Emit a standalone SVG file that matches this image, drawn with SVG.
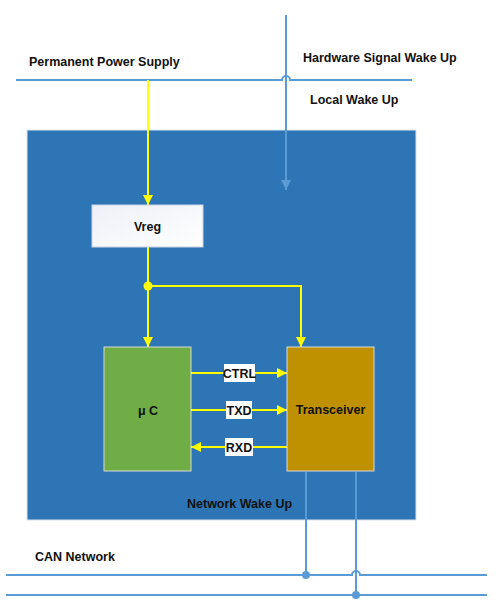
<svg xmlns="http://www.w3.org/2000/svg" width="503" height="610" viewBox="0 0 503 610">
<defs>
<marker id="ay" viewBox="0 0 10 10" refX="10" refY="5" markerWidth="10" markerHeight="10" markerUnits="userSpaceOnUse" orient="auto"><path d="M0,0 L10,5 L0,10 z" fill="#FFFF00"/></marker>
<marker id="ab" viewBox="0 0 10 10" refX="10" refY="5" markerWidth="10" markerHeight="10" markerUnits="userSpaceOnUse" orient="auto"><path d="M0,0 L10,5 L0,10 z" fill="#5B9BD5"/></marker>
<linearGradient id="gw" x1="0" y1="0" x2="1" y2="1"><stop offset="0" stop-color="#EEF0F7"/><stop offset="1" stop-color="#FFFFFF"/></linearGradient>
</defs>
<style>
text{font-family:"Liberation Sans",Arial,sans-serif;font-weight:bold;font-size:12.5px;fill:#111}
.bl{stroke:#5B9BD5;stroke-width:2;fill:none}
.yl{stroke:#FFFF00;stroke-width:2;fill:none}
.lab{fill:#FFFFFF;stroke:none}
</style>
<rect id="frame" x="27" y="130" width="389" height="390" fill="#2E75B6" stroke="#DDE6F0" stroke-width="1"/>
<g id="labels">
<text x="29" y="66">Permanent Power Supply</text>
<text x="303" y="62">Hardware Signal Wake Up</text>
<text x="310" y="104">Local Wake Up</text>
<text x="187" y="508">Network Wake Up</text>
<text x="35" y="561">CAN Network</text>
</g>
<g id="connectors">
<path class="bl" d="M16,80 H282 A4,4 0 0 1 290,80 H412"/>
<path class="bl" d="M286,15 V190" marker-end="url(#ab)"/>
<path class="yl" d="M148,80 V205" marker-end="url(#ay)"/>
<path class="yl" d="M148,247 V347" marker-end="url(#ay)"/>
<path class="yl" d="M148,286 H301 V347" marker-end="url(#ay)"/>
<circle cx="148" cy="286" r="4.5" fill="#FFFF00"/>
<path class="yl" d="M191,373 H287" marker-end="url(#ay)"/>
<path class="yl" d="M191,410 H287" marker-end="url(#ay)"/>
<path class="yl" d="M287,447 H191" marker-end="url(#ay)"/>
<path class="bl" d="M6,575 H352 A4,4 0 0 1 360,575 H487"/>
<path class="bl" d="M6,595 H487"/>
<path class="bl" d="M306,472 V575"/>
<path class="bl" d="M356,472 V595"/>
<circle cx="306" cy="575" r="4" fill="#5B9BD5"/>
<circle cx="356" cy="595" r="4" fill="#5B9BD5"/>
<rect class="lab" x="224" y="364" width="31" height="18"/>
<text x="239.5" y="378" text-anchor="middle">CTRL</text>
<rect class="lab" x="226" y="401" width="26" height="18"/>
<text x="239" y="415" text-anchor="middle">TXD</text>
<rect class="lab" x="225" y="438" width="28" height="18"/>
<text x="239" y="452" text-anchor="middle">RXD</text>
</g>
<g id="vreg">
<rect x="92" y="205" width="111" height="42" fill="url(#gw)" stroke="#C9D3E3" stroke-width="1"/>
<text x="147.5" y="231" text-anchor="middle">Vreg</text>
</g>
<g id="uc">
<rect x="104" y="347" width="87" height="124" fill="#70AD47" stroke="#D9D9D9" stroke-width="1"/>
<text x="148" y="415" text-anchor="middle">μ C</text>
</g>
<g id="transceiver">
<rect x="287" y="347" width="87" height="124" fill="#BF9000" stroke="#D9D9D9" stroke-width="1"/>
<text x="330.5" y="414" text-anchor="middle">Transceiver</text>
</g>
</svg>
